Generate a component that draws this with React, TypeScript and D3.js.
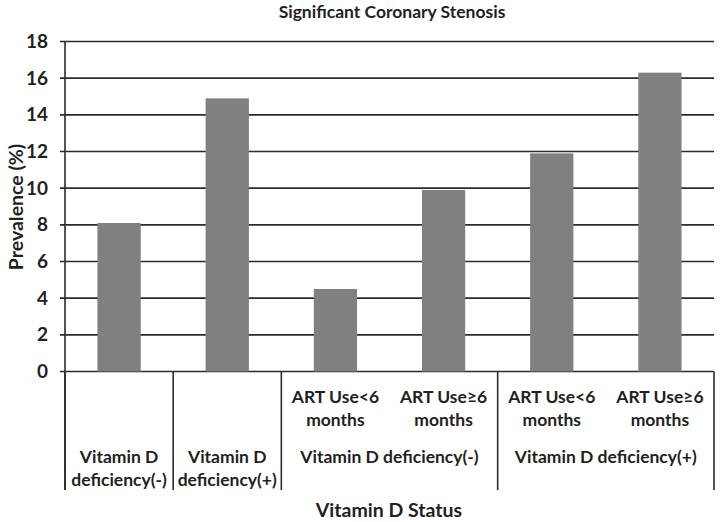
import React from "react";
import * as d3 from "d3";

const categories = ["c1", "c2", "c3", "c4", "c5", "c6"];
const values = [8.1, 14.9, 4.5, 9.9, 11.9, 16.3];
const innerLabels: (string[] | null)[] = [
  null,
  null,
  ["ART Use<6", "months"],
  ["ART Use≥6", "months"],
  ["ART Use<6", "months"],
  ["ART Use≥6", "months"],
];
const singleLabels: (string[] | null)[] = [
  ["Vitamin D", "deficiency(-)"],
  ["Vitamin D", "deficiency(+)"],
  null,
  null,
  null,
  null,
];
const groupLabels = [
  { label: "Vitamin D deficiency(-)", from: 2, to: 3 },
  { label: "Vitamin D deficiency(+)", from: 4, to: 5 },
];
const yTicks = [0, 2, 4, 6, 8, 10, 12, 14, 16, 18];
const title = "Significant Coronary Stenosis";
const xTitle = "Vitamin D Status";
const yTitle = "Prevalence (%)";

export default function App() {
  const W = 720, H = 522;
  const left = 65, right = 714, top = 41.5, bottom = 371.5;
  const x = d3.scaleBand().domain(categories).range([left, right]).paddingInner(0).paddingOuter(0);
  const y = d3.scaleLinear().domain([0, 18]).range([bottom, top]);
  const bw = x.bandwidth();
  const barW = bw * 0.4;
  const font = "Lato, 'Open Sans', sans-serif";
  const ink = "#231f20";
  const dividerIdx = [0, 1, 2, 4, 6];
  return (
    <svg width={W} height={H} style={{ position: "absolute", left: 0, top: 0, background: "#fff" }} fontFamily={font}>
      <text x={392} y={18} textAnchor="middle" fontSize={17.5} fontWeight={700} fill={ink}>{title}</text>
      {yTicks.map((t) => (
        <g key={t}>
          <line x1={left - 5} x2={right} y1={y(t)} y2={y(t)} stroke="#2b2b2b" strokeWidth={1.6} />
          <text x={48} y={y(t) + 6.5} textAnchor="end" fontSize={19} fontWeight={700} fill={ink}>{t}</text>
        </g>
      ))}
      {categories.map((c, i) => (
        <rect key={c} x={(x(c) as number) + (bw - barW) / 2} y={y(values[i])} width={barW} height={y(0) - y(values[i])} fill="#808080" />
      ))}
      <line x1={left} x2={left} y1={top} y2={490} stroke="#2b2b2b" strokeWidth={1.6} />
      {dividerIdx.map((k) => {
        const xx = left + k * bw;
        return <line key={k} x1={xx} x2={xx} y1={bottom} y2={490} stroke="#2b2b2b" strokeWidth={1.6} />;
      })}
      {categories.map((c, i) => {
        const cx = (x(c) as number) + bw / 2;
        const inner = innerLabels[i];
        const single = singleLabels[i];
        return (
          <g key={c}>
            {inner && inner.map((s, j) => (
              <text key={j} x={cx} y={403 + j * 23} textAnchor="middle" fontSize={17.5} fontWeight={700} fill={ink}>{s}</text>
            ))}
            {single && single.map((s, j) => (
              <text key={j} x={cx} y={463 + j * 23} textAnchor="middle" fontSize={17.5} fontWeight={700} fill={ink}>{s}</text>
            ))}
          </g>
        );
      })}
      {groupLabels.map((g) => {
        const cx = (x(categories[g.from]) as number + (x(categories[g.to]) as number) + bw) / 2;
        return <text key={g.label} x={cx} y={463} textAnchor="middle" fontSize={17.5} fontWeight={700} fill={ink}>{g.label}</text>;
      })}
      <text x={389} y={517} textAnchor="middle" fontSize={19.5} fontWeight={700} fill={ink}>{xTitle}</text>
      <text transform={`translate(23, ${(top + bottom) / 2 + 0.5}) rotate(-90)`} textAnchor="middle" fontSize={19.5} fontWeight={700} fill={ink}>{yTitle}</text>
    </svg>
  );
}
